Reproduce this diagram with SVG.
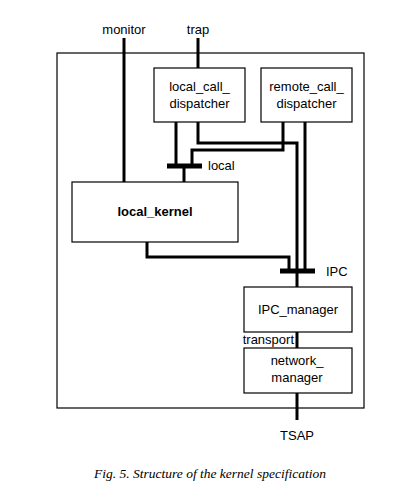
<svg xmlns="http://www.w3.org/2000/svg" width="420" height="500" viewBox="0 0 420 500">
<style>
.box{fill:#fff;stroke:#000;stroke-width:1.2}
.ln{fill:none;stroke:#000;stroke-width:3}
.bar{fill:none;stroke:#000;stroke-width:5}
.t{font-family:"Liberation Sans",Arial,sans-serif;font-size:13px;fill:#000}
.c{text-anchor:middle}
.b{font-weight:bold}
.cap{font-family:"Liberation Serif","Times New Roman",serif;font-style:italic;font-size:13.5px;text-anchor:middle}
</style>
<rect fill="#fff" width="420" height="500"/>
<g id="kernel"><rect class="box" x="57" y="53" width="307" height="355"/></g>
<g id="connectors">
<path class="ln" d="M124 38V182"/>
<path class="ln" d="M198 38V68"/>
<path class="ln" d="M176 122V166"/>
<path class="ln" d="M198 122V143H297V271"/>
<path class="ln" d="M283 122V150H192V166"/>
<path class="ln" d="M305 122V271"/>
<path class="bar" d="M167 166H202"/>
<path class="ln" d="M184 166V182"/>
<path class="ln" d="M147 242V257H289V271"/>
<path class="bar" d="M280 271H315"/>
<path class="ln" d="M297 271V287"/>
<path class="ln" d="M297 332V348"/>
<path class="ln" d="M297 393V420"/>
</g>
<g id="labels">
<text class="t c" x="124" y="34">monitor</text>
<text class="t c" x="198" y="34">trap</text>
<text class="t" x="208" y="170">local</text>
<text class="t" x="326" y="276">IPC</text>
<text class="t" x="294" y="344" text-anchor="end">transport</text>
<text class="t c" x="297" y="440">TSAP</text>
</g>
<g id="local_call_dispatcher"><rect class="box" x="154" y="68" width="91" height="54"/>
<text class="t c" x="199.5" y="91">local_call_</text><text class="t c" x="199.5" y="108">dispatcher</text></g>
<g id="remote_call_dispatcher"><rect class="box" x="261" y="68" width="91" height="54"/>
<text class="t c" x="306.5" y="91">remote_call_</text><text class="t c" x="306.5" y="108">dispatcher</text></g>
<g id="local_kernel"><rect class="box" x="72" y="182" width="166" height="60"/>
<text class="t c b" x="155" y="216">local_kernel</text></g>
<g id="IPC_manager"><rect class="box" x="244" y="287" width="108" height="45"/>
<text class="t c" x="298" y="314">IPC_manager</text></g>
<g id="network_manager"><rect class="box" x="244" y="348" width="108" height="45"/>
<text class="t c" x="297" y="365">network_</text><text class="t c" x="297" y="382">manager</text></g>
<text class="cap" x="210" y="478">Fig. 5. Structure of the kernel specification</text>
</svg>
